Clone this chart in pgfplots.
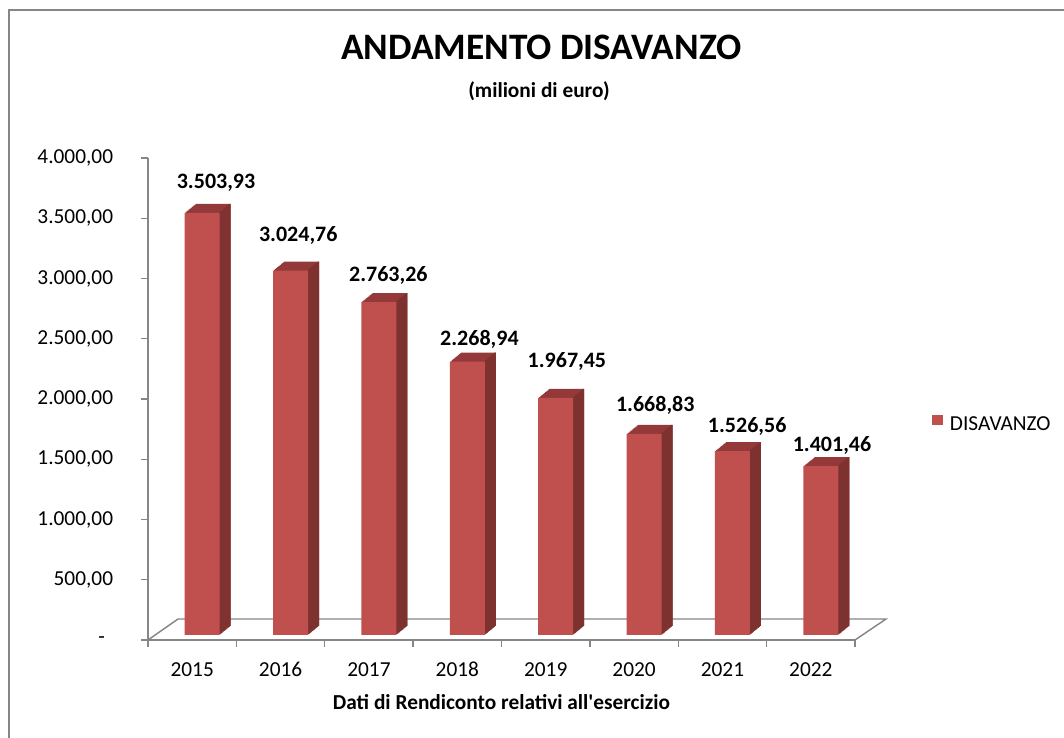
\documentclass[border=0pt]{standalone}
\usepackage{pgfplots}
\pgfplotsset{compat=1.18}
\usepackage{pgfplotstable}
\usepackage{fontspec}
\setmainfont{Carlito}[Ligatures=TeXOff]

\definecolor{barfront}{HTML}{C0504D}
\definecolor{barside}{HTML}{7D3230}
\definecolor{bartop}{HTML}{93393A}
\definecolor{axgray}{HTML}{868686}

% disavanzo, milioni di euro
\pgfplotstableread{
x v
0 3503.93
1 3024.76
2 2763.26
3 2268.94
4 1967.45
5 1668.83
6 1526.56
7 1401.46
}\disavanzo

% etichette dei valori (posizione come nel grafico originale)
\pgfplotstableread{
x y lab
0.27 3797 3.503,93
1.20 3353 3.024,76
2.22 3021 2.763,26
3.25 2498 2.268,94
4.24 2315 1.967,45
5.24 1950 1.668,83
6.28 1768 1.526,56
7.24 1618 1.401,46
}\etichette

\begin{document}
\begin{tikzpicture}
% cornice
\draw[axgray, line width=1.1pt] (6.75pt,-20pt) -- (6.75pt,546pt) -- (830pt,546pt);
\node[anchor=base, font=\fontsize{28pt}{32pt}\bfseries\selectfont] at (406pt,508.5pt) {ANDAMENTO DISAVANZO};
\node[anchor=base, font=\fontsize{16pt}{19pt}\bfseries\selectfont] at (404.25pt,480pt) {(milioni di euro)};

\begin{axis}[
    at={(111pt,73.5pt)}, anchor=south west,
    scale only axis, width=530.25pt, height=361.5pt,
    xmin=-0.5, xmax=7.5, ymin=0, ymax=4000,
    clip=false,
    axis x line*=bottom, axis y line*=left,
    axis line style={axgray, line width=1.1pt},
    tick align=outside,
    tick style={axgray, line width=1.1pt},
    major tick length=5pt,
    xtick={-0.5,0.5,...,6.5},
    xticklabels={2015,2016,2017,2018,2019,2020,2021,2022},
    extra x ticks={7.5},
    extra x tick labels={},
    ytick={0,500,...,4000},
    yticklabels={{\makebox[11pt][l]{-}},{500,00},{1.000,00},{1.500,00},{2.000,00},{2.500,00},{3.000,00},{3.500,00},{4.000,00}},
    tick label style={font=\fontsize{16pt}{19pt}\selectfont, inner sep=0pt},
    yticklabel style={anchor=east, xshift=-21pt},
    xticklabel style={anchor=base, xshift=33.14pt, yshift=-22.75pt},
    xlabel={Dati di Rendiconto relativi all'esercizio},
    every axis x label/.style={at={(rel axis cs:0.5,0)}, anchor=north, yshift=-41pt, inner sep=0pt,
        font=\fontsize{16pt}{19pt}\bfseries\selectfont},
    legend style={at={(1.109,0.446)}, anchor=west, draw=none, fill=none, inner sep=0pt,
        font=\fontsize{16pt}{19pt}\selectfont,
        /tikz/every odd column/.append style={column sep=3pt}},
    legend image code/.code={\fill[barfront] (0pt,-4.1pt) rectangle (8.2pt,4.1pt);},
]
% pavimento 3D
\draw[axgray, line width=1.1pt] (axis cs:-0.5,0) -- ++(22.5pt,15.75pt)
    -- ([shift={(23.25pt,15.75pt)}]axis cs:7.5,0) -- (axis cs:7.5,0);

% profondita delle barre: copie spostate (faccia superiore)
\pgfplotsinvokeforeach{1,...,11}{
  \addplot[ybar, forget plot, fill=bartop, draw=none, bar width=26.25pt,
      bar shift={7.5pt+0.75pt*#1}, yshift={3.75pt+0.6136pt*#1}]
      table[x=x, y=v] {\disavanzo};
}
% faccia laterale
\pgfplotsinvokeforeach{1,...,11}{
  \addplot[ybar, forget plot, fill=barside, draw=none, bar width=1pt,
      bar shift={20.1pt+0.75pt*#1}, yshift={3.75pt+0.6136pt*#1}]
      table[x=x, y=v] {\disavanzo};
}
% faccia frontale
\addplot[ybar, fill=barfront, draw=none, bar width=26.25pt, bar shift=7.5pt, yshift=3.75pt]
    table[x=x, y=v] {\disavanzo};
\addlegendentry{DISAVANZO}

% etichette
\addplot[only marks, mark=*, mark size=0pt, mark options={draw=none, fill=none}, forget plot,
    point meta=explicit symbolic, nodes near coords,
    every node near coord/.append style={anchor=center, inner sep=0pt,
        font=\fontsize{16.5pt}{19pt}\bfseries\selectfont}]
    table[x=x, y=y, meta=lab] {\etichette};
\end{axis}
\pgfresetboundingbox
\useasboundingbox (0,0) rectangle (798pt,553.5pt);
\end{tikzpicture}
\end{document}
